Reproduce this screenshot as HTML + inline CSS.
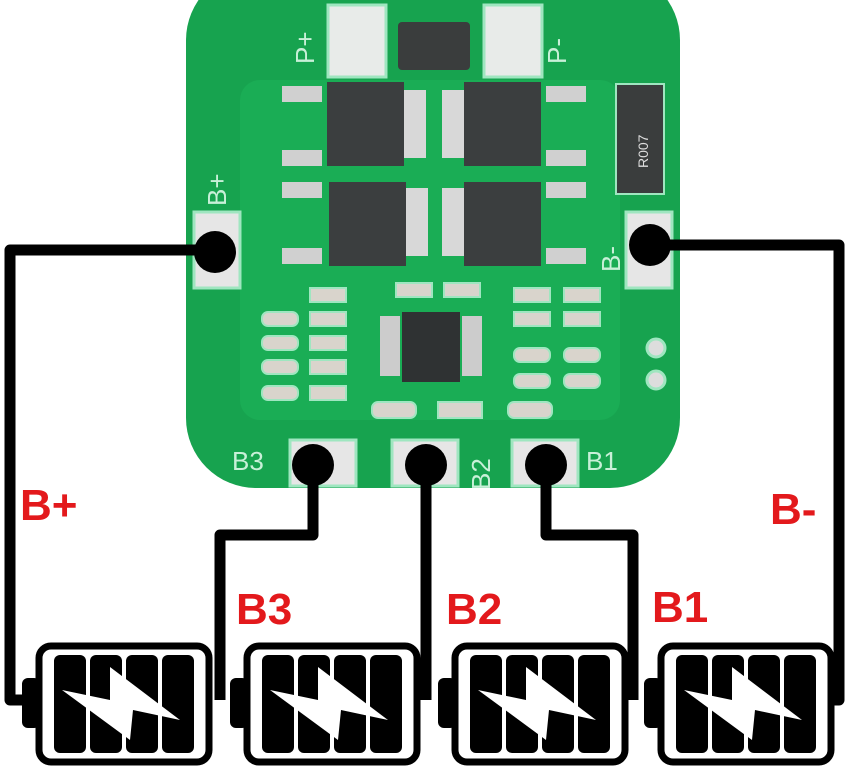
<!DOCTYPE html>
<html><head><meta charset="utf-8"><style>
html,body{margin:0;padding:0;background:#fff;width:850px;height:768px;overflow:hidden}
svg{display:block}
.lbl{font-family:"Liberation Sans",sans-serif;font-weight:bold;fill:#e3191c;font-size:44px}
.sil{font-family:"Liberation Sans",sans-serif;fill:#c8f0d8;font-size:26px}
</style></head><body>
<svg width="850" height="768" viewBox="0 0 850 768" xmlns="http://www.w3.org/2000/svg">
<defs>
<g id="bat">
  <rect x="-14" y="35" width="18" height="50" rx="6" fill="#000"/>
  <rect x="3" y="3" width="170" height="116" rx="12" fill="#fff" stroke="#000" stroke-width="7"/>
  <rect x="18" y="12" width="32" height="98" rx="6" fill="#000"/>
  <rect x="54" y="12" width="32" height="98" rx="6" fill="#000"/>
  <rect x="90" y="12" width="32" height="98" rx="6" fill="#000"/>
  <rect x="126" y="12" width="32" height="98" rx="6" fill="#000"/>
  <polygon points="26,47 74,57 74,24 144,77 97,67 94,97" fill="#fff"/>
</g>
</defs>
<rect x="186" y="-30" width="494" height="518" rx="70" fill="#17a34f"/>
<rect x="240" y="80" width="380" height="340" rx="20" fill="#1aad55"/>
<rect x="328" y="5" width="58" height="72" fill="#e8ebe9" stroke="#9fe6c0" stroke-width="3"/>
<rect x="484" y="5" width="58" height="72" fill="#e8ebe9" stroke="#9fe6c0" stroke-width="3"/>
<rect x="398" y="22" width="72" height="48" rx="4" fill="#3a3d3d"/>
<text class="sil" transform="translate(314,64) rotate(-90)">P+</text>
<text class="sil" transform="translate(566,64) rotate(-90)">P-</text>
<rect x="327" y="82" width="77" height="84" fill="#3b3e3f"/>
<rect x="464" y="82" width="77" height="84" fill="#3b3e3f"/>
<rect x="329" y="182" width="77" height="84" fill="#3b3e3f"/>
<rect x="464" y="182" width="77" height="84" fill="#3b3e3f"/>
<rect x="404" y="90" width="22" height="68" fill="#d8d8d8"/>
<rect x="442" y="90" width="22" height="68" fill="#d8d8d8"/>
<rect x="406" y="188" width="22" height="68" fill="#d8d8d8"/>
<rect x="442" y="188" width="22" height="68" fill="#d8d8d8"/>
<g fill="#d0d0d0">
<rect x="282" y="86" width="40" height="16"/><rect x="282" y="150" width="40" height="16"/>
<rect x="282" y="182" width="40" height="16"/><rect x="282" y="248" width="40" height="16"/>
<rect x="546" y="86" width="40" height="16"/><rect x="546" y="150" width="40" height="16"/>
<rect x="546" y="182" width="40" height="16"/><rect x="546" y="248" width="40" height="16"/>
</g>
<rect x="616" y="84" width="48" height="110" fill="#3a3d3d" stroke="#9fe6c0" stroke-width="2"/>
<text x="0" y="0" transform="translate(648,168) rotate(-90)" font-family="Liberation Sans,sans-serif" font-size="14" fill="#ddd">R007</text>
<rect x="402" y="312" width="58" height="70" fill="#2f3233"/>
<g fill="#ccc"><rect x="380" y="316" width="20" height="60"/><rect x="462" y="316" width="20" height="60"/></g>
<g fill="#d9d4cc" stroke="#9fe6c0" stroke-width="2">
<rect x="262" y="312" width="36" height="14" rx="6"/><rect x="262" y="336" width="36" height="14" rx="6"/><rect x="262" y="360" width="36" height="14" rx="6"/><rect x="262" y="386" width="36" height="14" rx="6"/>
<rect x="310" y="288" width="36" height="14"/><rect x="310" y="312" width="36" height="14"/><rect x="310" y="336" width="36" height="14"/><rect x="310" y="360" width="36" height="14"/><rect x="310" y="386" width="36" height="14"/>
<rect x="396" y="283" width="36" height="14"/><rect x="444" y="283" width="36" height="14"/>
<rect x="514" y="288" width="36" height="14"/><rect x="564" y="288" width="36" height="14"/>
<rect x="514" y="312" width="36" height="14"/><rect x="564" y="312" width="36" height="14"/>
<rect x="514" y="348" width="36" height="14" rx="6"/><rect x="564" y="348" width="36" height="14" rx="6"/>
<rect x="514" y="374" width="36" height="14" rx="6"/><rect x="564" y="374" width="36" height="14" rx="6"/>
<rect x="372" y="402" width="44" height="16" rx="6"/><rect x="438" y="402" width="44" height="16"/><rect x="508" y="402" width="44" height="16" rx="6"/>
</g>
<circle cx="656" cy="348" r="9" fill="#ddd" stroke="#9fe6c0" stroke-width="3"/>
<circle cx="656" cy="380" r="9" fill="#ddd" stroke="#9fe6c0" stroke-width="3"/>
<rect x="194" y="212" width="46" height="76" fill="#e6e6e6" stroke="#9fe6c0" stroke-width="3"/>
<rect x="626" y="212" width="46" height="76" fill="#e6e6e6" stroke="#9fe6c0" stroke-width="3"/>
<text class="sil" transform="translate(226,206) rotate(-90)">B+</text>
<text class="sil" transform="translate(620,272) rotate(-90)">B-</text>
<rect x="290" y="440" width="66" height="46" fill="#e6e6e6" stroke="#9fe6c0" stroke-width="3"/>
<rect x="392" y="440" width="66" height="46" fill="#e6e6e6" stroke="#9fe6c0" stroke-width="3"/>
<rect x="512" y="440" width="66" height="46" fill="#e6e6e6" stroke="#9fe6c0" stroke-width="3"/>
<text class="sil" x="232" y="470">B3</text>
<text class="sil" transform="translate(490,490) rotate(-90)">B2</text>
<text class="sil" x="586" y="470">B1</text>
<g fill="none" stroke="#000" stroke-width="11" stroke-linejoin="round">
<polyline points="215,250 10,250 10,700 28,700"/>
<polyline points="650,245 839,245 839,700 826,700"/>
<polyline points="313,465 313,535 220,535 220,700"/>
<polyline points="426,465 426,700"/>
<polyline points="546,465 546,535 633,535 633,700"/>
</g>
<g fill="#000">
<circle cx="215" cy="252" r="21"/><circle cx="650" cy="245" r="21"/>
<circle cx="313" cy="465" r="21"/><circle cx="426" cy="465" r="21"/><circle cx="546" cy="465" r="21"/>
</g>
<use href="#bat" x="36" y="643"/>
<use href="#bat" x="244" y="643"/>
<use href="#bat" x="452" y="643"/>
<use href="#bat" x="658" y="643"/>
<text class="lbl" x="20" y="520">B+</text>
<text class="lbl" x="770" y="524">B-</text>
<text class="lbl" x="236" y="624">B3</text>
<text class="lbl" x="446" y="624">B2</text>
<text class="lbl" x="652" y="622">B1</text>
</svg>
</body></html>
